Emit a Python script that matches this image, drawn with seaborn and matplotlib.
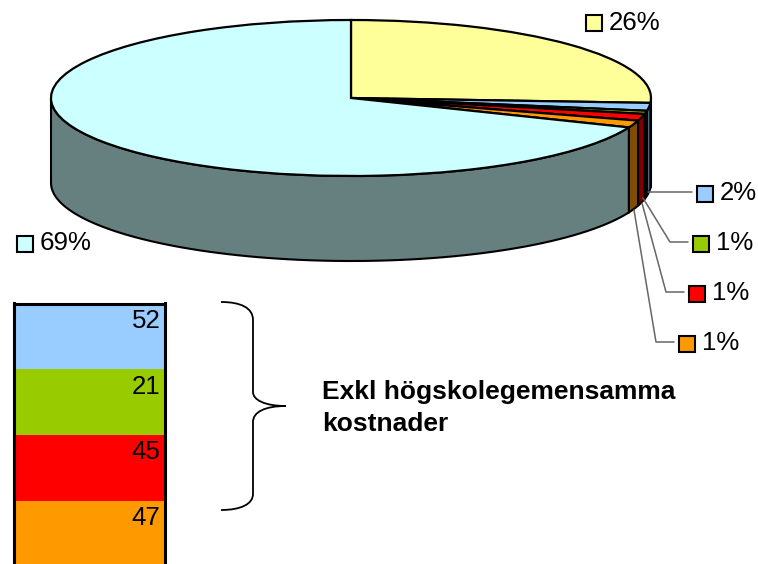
import numpy as np
import seaborn as sns
import matplotlib.pyplot as plt
from matplotlib.colors import ListedColormap
from matplotlib.patches import PathPatch, Polygon, Rectangle
from matplotlib.path import Path

# Slices clockwise from twelve o'clock
slice_values = [832, 52, 21, 45, 47, 2203]
slice_labels = ["26%", "2%", "1%", "1%", "1%", "69%"]
slice_colors = ["#FFFF99", "#99CCFF", "#99CC00", "#FF0000", "#FF9900", "#CCFFFF"]
wall_colors = ["#7F7F4C", "#4C667F", "#4C6600", "#7F0000", "#7F4C00", "#667F7F"]

table_values = [52, 21, 45, 47]
table_colors = ["#99CCFF", "#99CC00", "#FF0000", "#FF9900"]
note_text = "Exkl högskolegemensamma\nkostnader"

W, H = 758, 564
DEPTH = 85 / 78

sns.set_theme(style="white")
plt.rcParams["font.family"] = ["Liberation Sans", "DejaVu Sans"]

fig = plt.figure(figsize=(W / 100, H / 100), dpi=100)


def px_axes(x0, y0, x1, y1):
    # axes placed by pixel box, y counted from the top
    return fig.add_axes([x0 / W, 1 - y1 / H, (x1 - x0) / W, (y1 - y0) / H])


# Pie: x -1..1 is 51..651 px, y 1..-1 is 20..176 px, the wall goes below that
pie_ax = px_axes(51, 20, 651, 176 + 85)
angles = 90 - np.cumsum([0] + slice_values) / sum(slice_values) * 360
for i, color in enumerate(wall_colors):
    start, end = angles[i], max(angles[i + 1], -180)
    if i == len(wall_colors) - 1:
        end = -180
    start = min(start, 0)
    if start <= end:
        continue
    t = np.radians(np.linspace(start, end, 80))
    top = np.column_stack([np.cos(t), np.sin(t)])
    bottom = (top - [0, DEPTH])[::-1]
    pie_ax.add_patch(Polygon(np.vstack([top, bottom]), closed=True, facecolor=color,
                             edgecolor="black", linewidth=1.5, zorder=1))
pie_ax.pie(slice_values, colors=slice_colors, startangle=90, counterclock=False, radius=1,
           wedgeprops={"edgecolor": "black", "linewidth": 1.6, "zorder": 2})
pie_ax.set_aspect("auto")
pie_ax.set_xlim(-1, 1)
pie_ax.set_ylim(-1 - DEPTH, 1)
for patch in pie_ax.patches:
    patch.set_clip_on(False)

# Overlay in pixel coordinates for labels, leaders and the brace
over = px_axes(0, 0, W, H)
over.set_xlim(0, W)
over.set_ylim(H, 0)
over.axis("off")
over.patch.set_alpha(0)

key_boxes = [(586, 15), (697, 186), (693, 236), (689, 286), (679, 336), (17, 236)]
leaders = [
    None,
    [(648, 192), (692, 192)],
    [(643, 198), (670, 242), (688, 242)],
    [(642, 203), (666, 292), (684, 292)],
    [(634, 210), (656, 342), (674, 342)],
    None,
]
for (x, y), label, color, line in zip(key_boxes, slice_labels, slice_colors, leaders):
    over.add_patch(Rectangle((x, y), 16, 16, facecolor=color, edgecolor="black", linewidth=1.5))
    over.text(x + 22.5, y + 7.5, label, fontsize=18.6, color="black", va="center", ha="left")
    if line:
        xs, ys = zip(*line)
        over.plot(xs, ys, color="#666666", linewidth=1.1)

brace = Path(
    [(221, 302), (241, 302), (253, 308), (253, 320), (253, 392),
     (253, 400), (265, 406), (286, 406), (265, 406), (253, 412), (253, 422),
     (253, 494), (253, 504), (241, 510), (221, 510)],
    [Path.MOVETO, Path.CURVE4, Path.CURVE4, Path.CURVE4, Path.LINETO,
     Path.CURVE4, Path.CURVE4, Path.CURVE4, Path.CURVE4, Path.CURVE4, Path.CURVE4,
     Path.LINETO, Path.CURVE4, Path.CURVE4, Path.CURVE4],
)
over.add_patch(PathPatch(brace, facecolor="none", edgecolor="black", linewidth=1.3))

over.text(322, 408, note_text, fontsize=19, fontweight="bold", color="black",
          va="center", ha="left", linespacing=1.42)

# Table of the small cost items, runs off the bottom of the figure
table_ax = px_axes(13.5, 303.5, 165, 567)
sns.heatmap(np.arange(len(table_values)).reshape(-1, 1), cmap=ListedColormap(table_colors),
            cbar=False, xticklabels=False, yticklabels=False, ax=table_ax)
for i, value in enumerate(table_values):
    table_ax.text(0.97, i + 0.26, str(value), fontsize=18.6, color="black", ha="right", va="center")
for side in ["left", "right", "top", "bottom"]:
    table_ax.spines[side].set_visible(True)
    table_ax.spines[side].set_color("black")
    table_ax.spines[side].set_linewidth(2.2)

fig.savefig("out.png", dpi=100)
